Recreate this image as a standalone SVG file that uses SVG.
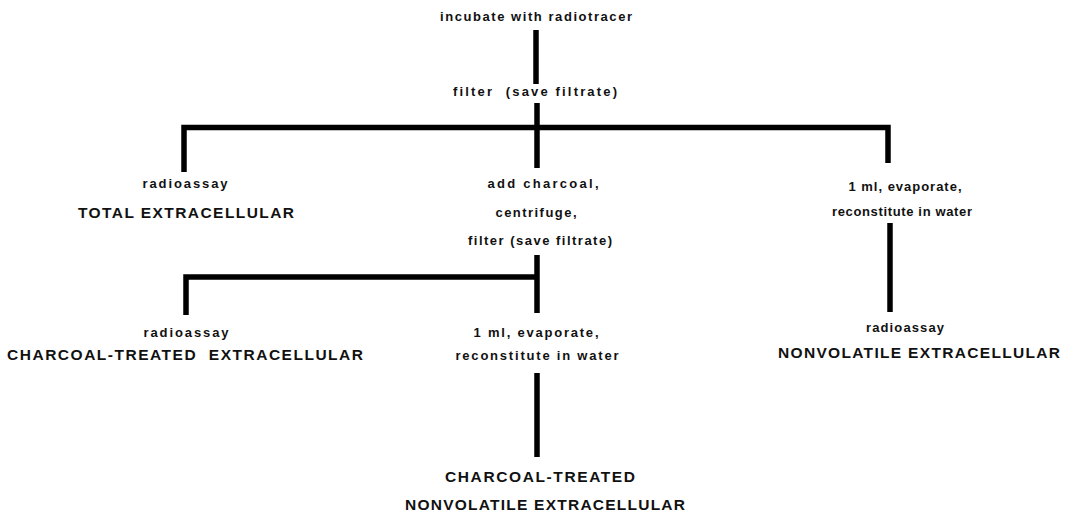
<svg xmlns="http://www.w3.org/2000/svg" width="1067" height="515" viewBox="0 0 1067 515">
  <style>
    .s { font-family: "Liberation Sans", Arial, sans-serif; font-weight: bold; font-size: 13px; fill: #111; text-anchor: middle; }
    .b { font-family: "Liberation Sans", Arial, sans-serif; font-weight: bold; font-size: 15.5px; fill: #111; text-anchor: middle; }
    .ln { fill: none; stroke: #000; stroke-width: 5.5; stroke-linecap: butt; stroke-linejoin: miter; }
  </style>
  <rect width="1067" height="515" fill="#fff"/>
  <g id="connectors">
    <path class="ln" d="M536,30 V84"/>
    <path class="ln" d="M537,103 V168"/>
    <path class="ln" d="M184,172 V127.5 H888 V163"/>
    <path class="ln" d="M537,255 V313"/>
    <path class="ln" d="M186,315 V277 H537"/>
    <path class="ln" d="M890,223 V312"/>
    <path class="ln" d="M537,373 V457"/>
  </g>
  <g id="n-incubate"><text class="s" x="536" y="21" textLength="192" lengthAdjust="spacing">incubate with radiotracer</text></g>
  <g id="n-filter1"><text class="s" x="535" y="96" textLength="164" lengthAdjust="spacing" xml:space="preserve">filter  (save filtrate)</text></g>
  <g id="n-total">
    <text class="s" x="185" y="188" textLength="85" lengthAdjust="spacing">radioassay</text>
    <text class="b" x="186" y="218" textLength="216" lengthAdjust="spacing">TOTAL EXTRACELLULAR</text>
  </g>
  <g id="n-charcoal">
    <text class="s" x="543" y="188" textLength="111" lengthAdjust="spacing">add charcoal,</text>
    <text class="s" x="536" y="217" textLength="81" lengthAdjust="spacing">centrifuge,</text>
    <text class="s" x="540" y="245" textLength="144" lengthAdjust="spacing">filter (save filtrate)</text>
  </g>
  <g id="n-evap-right">
    <text class="s" x="905" y="191" textLength="113" lengthAdjust="spacing">1 ml, evaporate,</text>
    <text class="s" x="902" y="216" textLength="140" lengthAdjust="spacing">reconstitute in water</text>
  </g>
  <g id="n-ct-extra">
    <text class="s" x="186" y="337" textLength="85" lengthAdjust="spacing">radioassay</text>
    <text class="b" x="185" y="360" textLength="356" lengthAdjust="spacing" xml:space="preserve">CHARCOAL-TREATED  EXTRACELLULAR</text>
  </g>
  <g id="n-evap-mid">
    <text class="s" x="536" y="337" textLength="125" lengthAdjust="spacing">1 ml, evaporate,</text>
    <text class="s" x="537" y="360" textLength="163" lengthAdjust="spacing">reconstitute in water</text>
  </g>
  <g id="n-nonvol">
    <text class="s" x="905" y="332" textLength="78" lengthAdjust="spacing">radioassay</text>
    <text class="b" x="919" y="358" textLength="282" lengthAdjust="spacing">NONVOLATILE EXTRACELLULAR</text>
  </g>
  <g id="n-ct-nonvol">
    <text class="b" x="540" y="482" textLength="190" lengthAdjust="spacing">CHARCOAL-TREATED</text>
    <text class="b" x="545" y="510" textLength="280" lengthAdjust="spacing">NONVOLATILE EXTRACELLULAR</text>
  </g>
</svg>
